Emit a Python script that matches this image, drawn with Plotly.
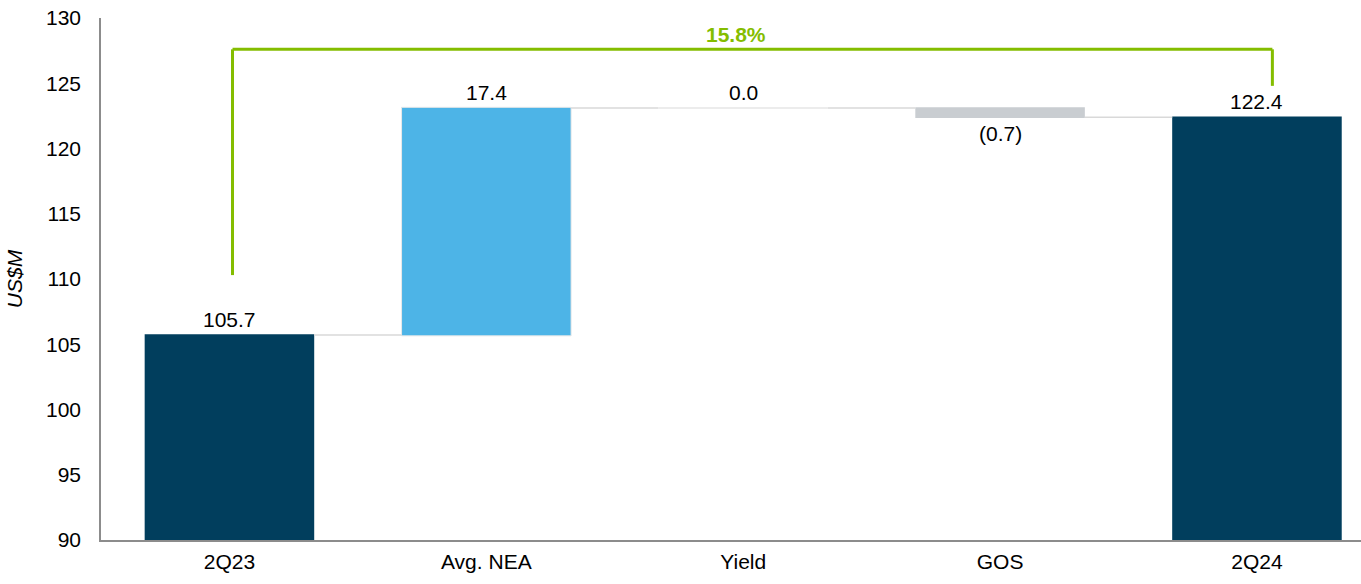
import plotly.graph_objects as go

categories = ["2Q23", "Avg. NEA", "Yield", "GOS", "2Q24"]
values = [105.7, 17.4, 0.0, -0.7, 122.4]
measures = ["absolute", "relative", "relative", "relative", "total"]
labels = ["105.7", "17.4", "0.0", "(0.7)", "122.4"]
growth_label = "15.8%"

NAVY = "#013E5D"
BLUE = "#4DB4E7"
GREY = "#C9CDD1"
GREEN = "#84BD00"
FONT = "Liberation Sans, Arial, sans-serif"
FS = 21
BAR_W = 0.66

fig = go.Figure()
fig.add_trace(go.Waterfall(
    x=categories, y=values, measure=measures,
    width=BAR_W,
    increasing=dict(marker=dict(color=BLUE, line=dict(color="#E8E8E8", width=1))),
    decreasing=dict(marker=dict(color=GREY)),
    totals=dict(marker=dict(color=NAVY)),
    connector=dict(mode="between", line=dict(color="#D9D9D9", width=1.5)),
    textposition="none",
    hoverinfo="skip",
))

running = 0.0
for i, (c, v, m, lab) in enumerate(zip(categories, values, measures, labels)):
    if m in ("absolute", "total"):
        start, end = 0.0, v
        running = v
    else:
        start, end = running, running + v
        running = end
    if v == 0:
        fig.add_shape(type="line", xref="x", yref="y",
                      x0=i - BAR_W / 2, x1=i + BAR_W / 2, y0=end, y1=end,
                      line=dict(color="#E6E6E6", width=1.5))
    if v < 0:
        fig.add_annotation(x=c, y=min(start, end), text=lab, showarrow=False,
                           yanchor="top", yshift=-3,
                           font=dict(size=FS, color="#000000", family=FONT))
    else:
        fig.add_annotation(x=c, y=max(start, end), text=lab, showarrow=False,
                           yanchor="bottom", yshift=2,
                           font=dict(size=FS, color="#000000", family=FONT))

y_top = 127.6
x_l, x_r = 0.012, 4.06
fig.add_shape(type="line", xref="x", yref="y", x0=x_l, x1=x_l, y0=110.3, y1=y_top,
              line=dict(color=GREEN, width=3))
fig.add_shape(type="line", xref="x", yref="y", x0=x_l, x1=x_r, y0=y_top, y1=y_top,
              line=dict(color=GREEN, width=3))
fig.add_shape(type="line", xref="x", yref="y", x0=x_r, x1=x_r, y0=y_top, y1=124.8,
              line=dict(color=GREEN, width=3))
fig.add_annotation(x=1.97, y=y_top, text="<b>" + growth_label + "</b>", showarrow=False,
                   yanchor="bottom", yshift=1,
                   font=dict(size=FS, color=GREEN, family=FONT))

fig.update_layout(
    width=1361, height=584,
    margin=dict(l=101, r=0, t=18, b=44),
    paper_bgcolor="white", plot_bgcolor="white",
    showlegend=False,
    font=dict(family=FONT, size=FS, color="#000000"),
    xaxis=dict(
        type="category",
        range=[-0.5, 4.405],
        automargin=False,
        showgrid=False, zeroline=False,
        showline=True, linecolor="#8C8C8C", linewidth=1.5,
        ticks="", ticklabelstandoff=2,
        tickfont=dict(size=FS, family=FONT, color="#000000"),
    ),
    yaxis=dict(
        range=[90, 130], dtick=5, tick0=90,
        automargin=False,
        ticklabeloverflow="allow",
        showgrid=False, zeroline=False,
        showline=True, linecolor="#8C8C8C", linewidth=1.5,
        ticks="", ticklabelstandoff=14,
        tickfont=dict(size=FS, family=FONT, color="#000000"),
        title=dict(text="<i>US$M</i>", font=dict(size=FS, family=FONT, color="#000000"), standoff=18),
    ),
)

fig.write_html("out.html", config={"displayModeBar": False},
               post_script="document.body.style.margin='0px';")
